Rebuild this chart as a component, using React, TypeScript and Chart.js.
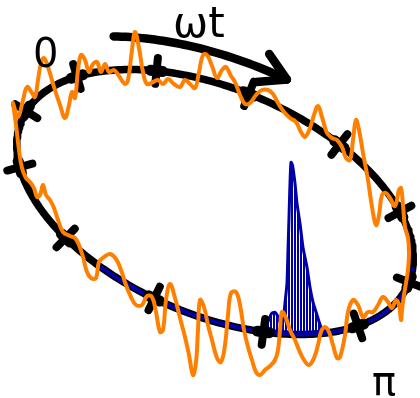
import React, { useEffect, useRef } from "react";
import { Chart, registerables } from "chart.js";
Chart.register(...registerables);

// ---- geometry of the ring (data frame: x 0..420, y 0..398, y downward) ----
const RING_CX = 215;
const RING_CY = 202;
const RING_A = 210;
const RING_B = 113;
const RING_TILT = 23; // degrees

// tick marks on the ring (parameter angle, degrees)
const tickAngles = [-1, -34, -64, -93, -120, -147, -175, 157, 126, 95, 63, 31];

// arrow "ωt" (scaled ring, parameter range)
const arrowScale = 1.25;
const arrowFrom = -127;
const arrowTo = -86;

// noisy orange trace
const orangeX = [13, 18, 23, 27, 32, 35, 38, 41, 44, 48, 54, 60, 65, 69, 72, 75, 78, 81, 85, 89, 93, 97, 101, 105, 109, 114, 119, 125, 128, 132, 135, 139, 143, 147, 153, 158, 163, 168, 174, 180, 185, 190, 195, 199, 203, 207, 212, 217, 222, 226, 231, 235, 240, 245, 250, 256, 262, 268, 273, 278, 284, 290, 296, 301, 305, 310, 314, 318, 322, 327, 332, 337, 342, 346, 350, 353, 356, 359, 363, 368, 372, 376, 379, 382, 386, 390, 395, 399, 401, 403, 405, 408, 409, 408, 406, 404, 402, 401, 399, 396, 392, 388, 383, 378, 373, 368, 363, 358, 353, 348, 345, 340, 337, 333, 329, 325, 321, 318, 314, 309, 304, 299, 295, 290, 286, 282, 280, 278, 275, 270, 265, 260, 256, 252, 248, 244, 240, 236, 231, 228, 225, 221, 217, 212, 208, 204, 200, 198, 196, 193, 189, 185, 180, 175, 170, 166, 163, 160, 156, 152, 147, 142, 136, 131, 126, 121, 116, 110, 104, 99, 96, 91, 87, 83, 79, 75, 70, 63, 58, 54, 50, 46, 43, 40, 37, 34, 30, 26, 22, 19, 16, 13];
const orangeY = [103, 117, 100, 87, 93, 97, 80, 63, 58, 67, 87, 105, 118, 105, 92, 98, 70, 55, 60, 72, 64, 62, 72, 64, 72, 70, 76, 84, 80, 50, 32, 48, 72, 84, 82, 80, 84, 79, 84, 87, 80, 84, 88, 72, 55, 55, 66, 78, 70, 67, 76, 82, 95, 104, 103, 95, 90, 90, 94, 103, 112, 118, 122, 132, 137, 128, 115, 106, 117, 133, 138, 140, 147, 158, 160, 140, 120, 130, 153, 180, 207, 225, 215, 195, 193, 198, 206, 190, 188, 205, 227, 238, 253, 270, 283, 295, 310, 320, 305, 300, 308, 302, 297, 305, 312, 312, 317, 305, 300, 312, 335, 357, 358, 345, 332, 327, 332, 345, 358, 365, 360, 350, 340, 330, 318, 312, 330, 350, 360, 366, 370, 375, 372, 360, 347, 330, 305, 292, 293, 315, 345, 362, 358, 340, 325, 307, 300, 330, 362, 375, 355, 337, 318, 298, 284, 300, 330, 332, 312, 297, 296, 305, 305, 297, 285, 270, 259, 254, 257, 262, 278, 278, 272, 257, 245, 238, 236, 232, 220, 208, 200, 195, 185, 195, 197, 188, 182, 178, 168, 150, 125, 103];

// blue density peak along the lower part of the ring
const peakX = [262, 266, 269, 272, 275, 278, 281, 283, 285, 287, 288, 289, 290, 291, 292.5, 295, 297, 300, 303, 307, 310, 313, 317, 320, 323, 327];
const peakH = [0, 5, 14, 20, 21, 17, 9, 12, 31, 51, 84, 117, 151, 172, 169, 151, 131, 111, 87, 67, 47, 32, 19, 9, 3, 0];
const blueArcFrom = 112;
const blueArcTo = -8;

// labels
const labelText = ["ωt", "0", "π"];
const labelX = [173, 33, 372];
const labelY = [37, 67, 395];

const rad = (d: number) => (d * Math.PI) / 180;
const cphi = Math.cos(rad(RING_TILT));
const sphi = Math.sin(rad(RING_TILT));

function ringPoint(thetaDeg: number, s = 1) {
  const t = rad(thetaDeg);
  const u = RING_A * Math.cos(t) * s;
  const v = RING_B * Math.sin(t) * s;
  return { x: RING_CX + u * cphi - v * sphi, y: RING_CY + u * sphi + v * cphi };
}
function ringTangent(thetaDeg: number) {
  const t = rad(thetaDeg);
  const du = -RING_A * Math.sin(t);
  const dv = RING_B * Math.cos(t);
  return { x: du * cphi - dv * sphi, y: du * sphi + dv * cphi };
}
// lower branch of the ring at a given x
function ringBottomY(x: number) {
  const A = RING_A * cphi;
  const B = -RING_B * sphi;
  const R = Math.hypot(A, B);
  const d = Math.atan2(B, A);
  const c = Math.max(-1, Math.min(1, (x - RING_CX) / R));
  const t = d + Math.acos(c);
  return ringPoint((t * 180) / Math.PI).y;
}
function arc(from: number, to: number, s = 1) {
  const pts: { x: number; y: number }[] = [];
  const n = Math.max(2, Math.round(Math.abs(to - from)));
  for (let i = 0; i <= n; i++) pts.push(ringPoint(from + ((to - from) * i) / n, s));
  return pts;
}

const labelPlugin = {
  id: "ringLabels",
  afterDatasetsDraw(chart: any) {
    const { ctx, scales } = chart;
    ctx.save();
    ctx.fillStyle = "#000";
    ctx.textBaseline = "alphabetic";
    labelText.forEach((t, i) => {
      ctx.font = i === 0 ? '42px "DejaVu Sans"' : '40px "DejaVu Sans"';
      ctx.fillText(t, scales.x.getPixelForValue(labelX[i]), scales.y.getPixelForValue(labelY[i]));
    });
    ctx.restore();
  },
};

export default function App() {
  const ref = useRef<HTMLCanvasElement>(null);
  useEffect(() => {
    if (!ref.current) return;
    const pc = document.createElement("canvas");
    pc.width = 3;
    pc.height = 4;
    const pctx = pc.getContext("2d")!;
    pctx.fillStyle = "#0000a8";
    pctx.fillRect(0, 0, 2, 4);
    const pattern = ref.current.getContext("2d")!.createPattern(pc, "repeat");

    const line = (data: any[], color: string, width: number, order: number, extra: any = {}) => ({
      data,
      showLine: true,
      borderColor: color,
      borderWidth: width,
      pointRadius: 0,
      tension: 0,
      fill: false,
      order,
      borderCapStyle: "round",
      borderJoinStyle: "round",
      ...extra,
    });

    const ellipse = arc(0, 360);
    const arrowArc = arc(arrowFrom, arrowTo, arrowScale);
    const tip = ringPoint(arrowTo, arrowScale);
    const tg = ringTangent(arrowTo);
    const ang = Math.atan2(tg.y, tg.x) + Math.PI;
    const barb = 31;
    const head = [
      { x: tip.x + barb * Math.cos(ang - rad(30)), y: tip.y + barb * Math.sin(ang - rad(30)) },
      tip,
      { x: tip.x + barb * Math.cos(ang + rad(30)), y: tip.y + barb * Math.sin(ang + rad(30)) },
    ];

    const peakTop = peakX.map((x, i) => ({ x, y: ringBottomY(x) - peakH[i] }));
    const peakBase = peakX.map((x) => ({ x, y: ringBottomY(x) })).reverse();
    const peakPoly = [...peakTop, ...peakBase];

    const orange = orangeX.map((x, i) => ({ x, y: orangeY[i] }));
    orange.push({ ...orange[0] });

    const ticks: any[] = [];
    tickAngles.forEach((a) => {
      const p = ringPoint(a);
      const t = ringTangent(a);
      const len = Math.hypot(t.x, t.y);
      const tx = t.x / len;
      const ty = t.y / len;
      const nx = -ty;
      const ny = tx;
      ticks.push(
        line(
          [
            { x: p.x - 13 * nx, y: p.y - 13 * ny },
            { x: p.x + 13 * nx, y: p.y + 13 * ny },
          ],
          "#000",
          8,
          1
        )
      );
      ticks.push(
        line(
          [
            { x: p.x - 6 * tx, y: p.y - 6 * ty },
            { x: p.x + 6 * tx, y: p.y + 6 * ty },
          ],
          "#000",
          11,
          1
        )
      );
    });

    const chart = new Chart(ref.current, {
      type: "scatter",
      data: {
        datasets: [
          line(orange, "#ff8000", 4, 0, { tension: 0.4 }),
          ...ticks,
          line(peakPoly, "#0000a8", 3, 2, { fill: "shape", backgroundColor: pattern, tension: 0.2 }),
          line(arc(blueArcFrom, blueArcTo), "#0000a8", 4, 3),
          line(ellipse, "#000", 7.5, 4),
          line(arrowArc, "#000", 8.5, 4),
          line(head, "#000", 8.5, 4),
        ] as any,
      },
      options: {
        responsive: true,
        maintainAspectRatio: false,
        animation: false,
        layout: { padding: 0 },
        plugins: { legend: { display: false }, tooltip: { enabled: false } },
        scales: {
          x: { type: "linear", min: 0, max: 420, display: false },
          y: { type: "linear", min: 0, max: 398, reverse: true, display: false },
        },
      },
      plugins: [labelPlugin],
    });
    return () => chart.destroy();
  }, []);
  return (
    <div style={{ position: "fixed", left: 0, top: 0, width: 420, height: 398, background: "#fff" }}>
      <canvas ref={ref} />
    </div>
  );
}
